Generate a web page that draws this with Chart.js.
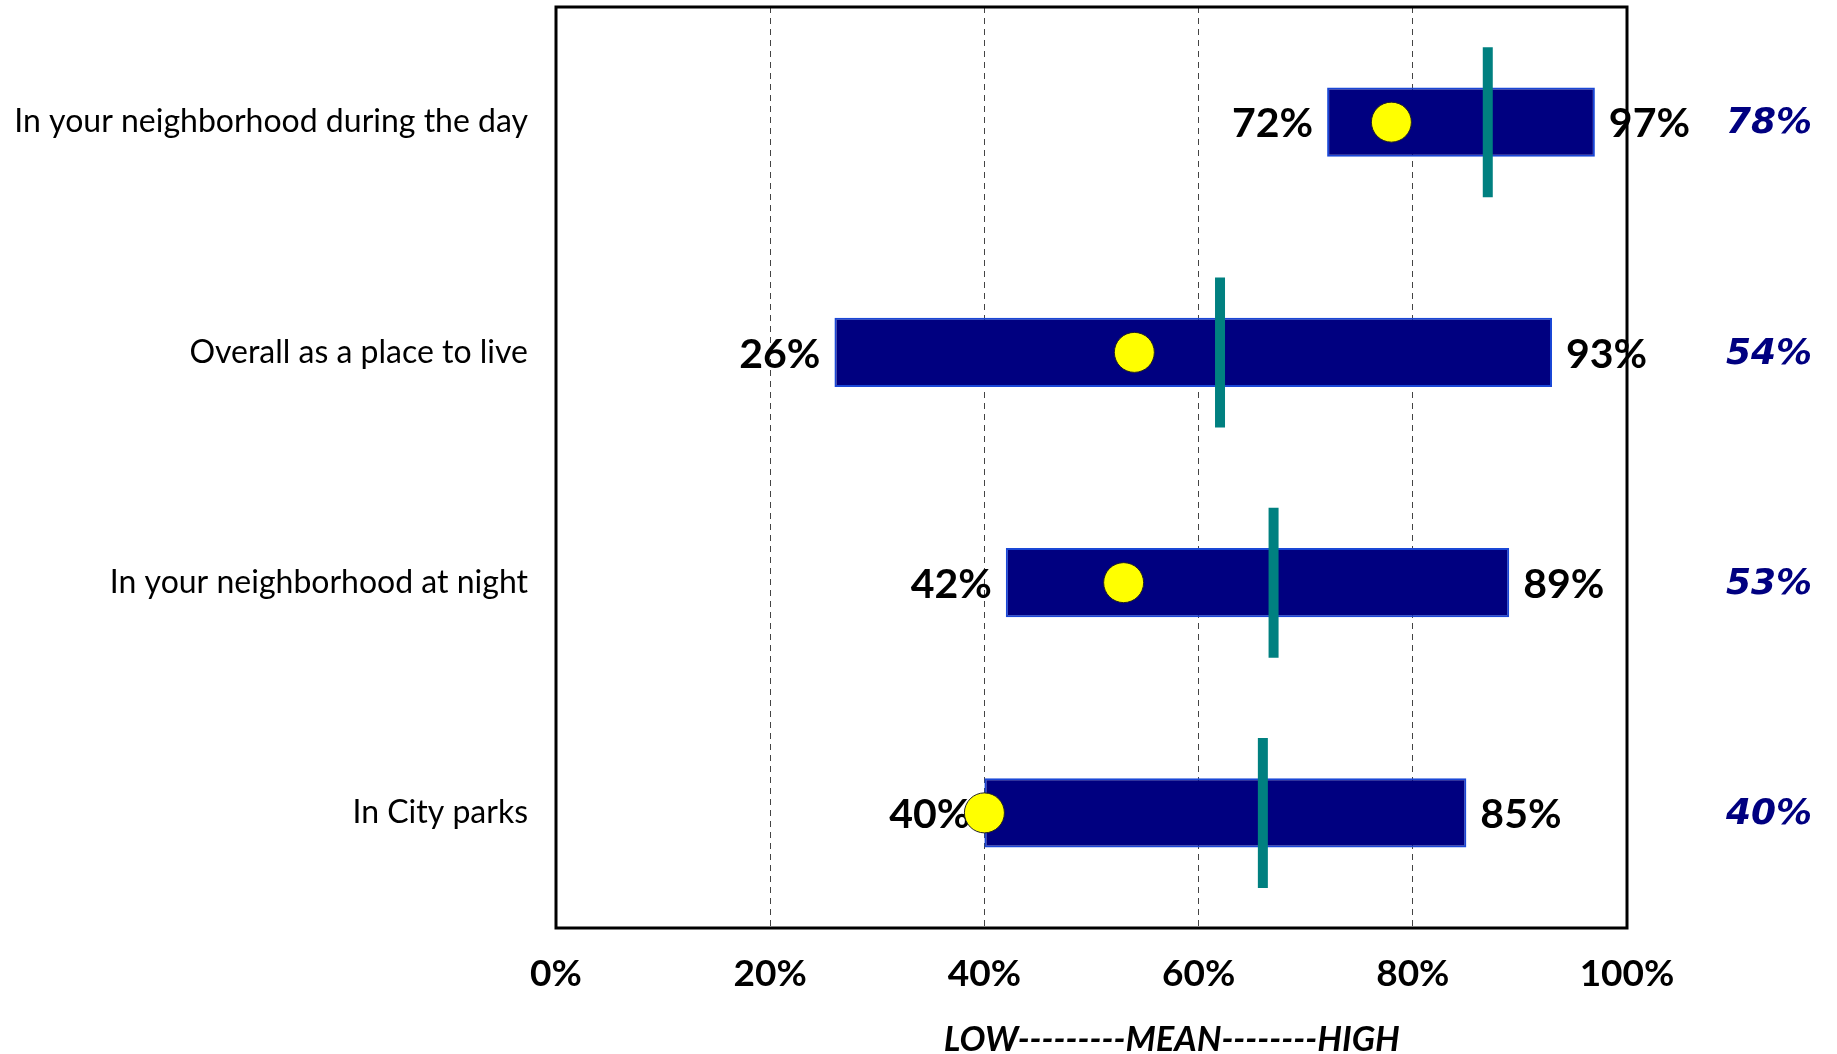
<!DOCTYPE html>
<html>
<head>
<meta charset="utf-8">
<script src="https://cdn.jsdelivr.net/npm/chart.js@4.4.1/dist/chart.umd.min.js"></script>
<style>
  html, body { margin: 0; padding: 0; background: #ffffff; }
  canvas { display: block; }
</style>
</head>
<body>
<canvas id="chart" width="1837" height="1054"></canvas>
<script>
// Survey items, one row each
const categories = [
  'In your neighborhood during the day',
  'Overall as a place to live',
  'In your neighborhood at night',
  'In City parks'
];
// Range of results (low / high), percent
const lowValues = [72, 26, 42, 40];
const highValues = [97, 93, 89, 85];
// City result (yellow dot), percent
const meanValues = [78, 54, 53, 40];
// Benchmark mean (teal marker), percent
const markerValues = [87, 62, 67, 66];
// Horizontal axis ticks and caption
const xTicks = [0, 20, 40, 60, 80, 100];
const axisCaption = 'LOW---------MEAN--------HIGH';

const rangeData = lowValues.map((lo, i) => [lo, highValues[i]]);

// Low/high value labels beside each bar (drawn under the dots)
const rangeLabels = {
  id: 'rangeLabels',
  afterDatasetDraw(chart, args) {
    if (args.index !== 0) return;
    const ctx = chart.ctx;
    ctx.save();
    ctx.font = 'bold 41px Lato';
    ctx.fillStyle = '#000000';
    ctx.textBaseline = 'middle';
    args.meta.data.forEach((bar, i) => {
      const left = Math.min(bar.x, bar.base);
      const right = Math.max(bar.x, bar.base);
      ctx.textAlign = 'right';
      ctx.fillText(lowValues[i] + '%', left - 14, bar.y + 2);
      ctx.textAlign = 'left';
      ctx.fillText(highValues[i] + '%', right + 14, bar.y + 2);
    });
    ctx.restore();
  }
};

// Box around the plot area, value column on the right, axis caption
const frameAndNotes = {
  id: 'frameAndNotes',
  beforeDatasetsDraw(chart) {
    const { ctx, chartArea: a } = chart;
    ctx.save();
    ctx.strokeStyle = '#000000';
    ctx.lineWidth = 3;
    ctx.strokeRect(a.left, a.top, a.right - a.left, a.bottom - a.top);
    ctx.restore();
  },
  afterDraw(chart) {
    const { ctx, chartArea: a } = chart;
    const y = chart.scales.y;
    const x = chart.scales.x;
    ctx.save();
    ctx.font = 'italic bold 36px "DejaVu Sans"';
    ctx.fillStyle = '#000080';
    ctx.textAlign = 'center';
    ctx.textBaseline = 'middle';
    meanValues.forEach((v, i) => {
      ctx.fillText(v + '%', a.right + 142, y.getPixelForValue(i) + 2);
    });
    ctx.font = 'italic bold 34.5px Lato';
    ctx.fillStyle = '#000000';
    ctx.fillText(axisCaption, x.left + (x.right - x.left) * 0.575, 1040);
    ctx.restore();
  }
};

new Chart(document.getElementById('chart'), {
  type: 'bar',
  data: {
    labels: categories,
    datasets: [
      {
        label: 'Range',
        data: rangeData,
        backgroundColor: '#000080',
        borderColor: '#1a47d6',
        borderWidth: 2,
        borderSkipped: false,
        barPercentage: 0.3,
        categoryPercentage: 1,
        order: 3
      },
      {
        type: 'line',
        label: 'Benchmark',
        indexAxis: 'y',
        data: markerValues,
        showLine: false,
        pointStyle: 'line',
        rotation: 90,
        radius: 75,
        borderWidth: 10,
        borderColor: '#008080',
        backgroundColor: '#008080',
        order: 2
      },
      {
        type: 'line',
        label: 'Result',
        indexAxis: 'y',
        data: meanValues,
        showLine: false,
        pointStyle: 'circle',
        radius: 20,
        borderWidth: 1,
        borderColor: '#222222',
        backgroundColor: '#ffff00',
        order: 1
      }
    ]
  },
  options: {
    indexAxis: 'y',
    responsive: false,
    animation: false,
    events: [],
    layout: {
      autoPadding: false,
      padding: { left: 0, top: 7, right: 210, bottom: 0 }
    },
    plugins: {
      legend: { display: false },
      tooltip: { enabled: false }
    },
    scales: {
      x: {
        type: 'linear',
        min: 0,
        max: 100,
        afterBuildTicks(scale) { scale.ticks = xTicks.map(v => ({ value: v })); },
        afterFit(scale) {
          scale.height = 126;
          scale.paddingLeft = 0;
          scale.paddingRight = 0;
        },
        border: { display: false, dash: [6, 5] },
        grid: {
          drawTicks: false,
          color: '#444444',
          lineWidth: 1
        },
        ticks: {
          padding: 24,
          color: '#000000',
          font: { family: 'Lato', weight: 'bold', size: 37 },
          callback: v => v + '%'
        }
      },
      y: {
        type: 'category',
        afterFit(scale) {
          scale.width = 556;
          scale.paddingTop = 0;
          scale.paddingBottom = 0;
        },
        border: { display: false },
        grid: { display: false, drawTicks: false },
        ticks: {
          padding: 28,
          color: '#000000',
          font: { family: 'Lato', size: 32 }
        }
      }
    }
  },
  plugins: [rangeLabels, frameAndNotes]
});
</script>
</body>
</html>
